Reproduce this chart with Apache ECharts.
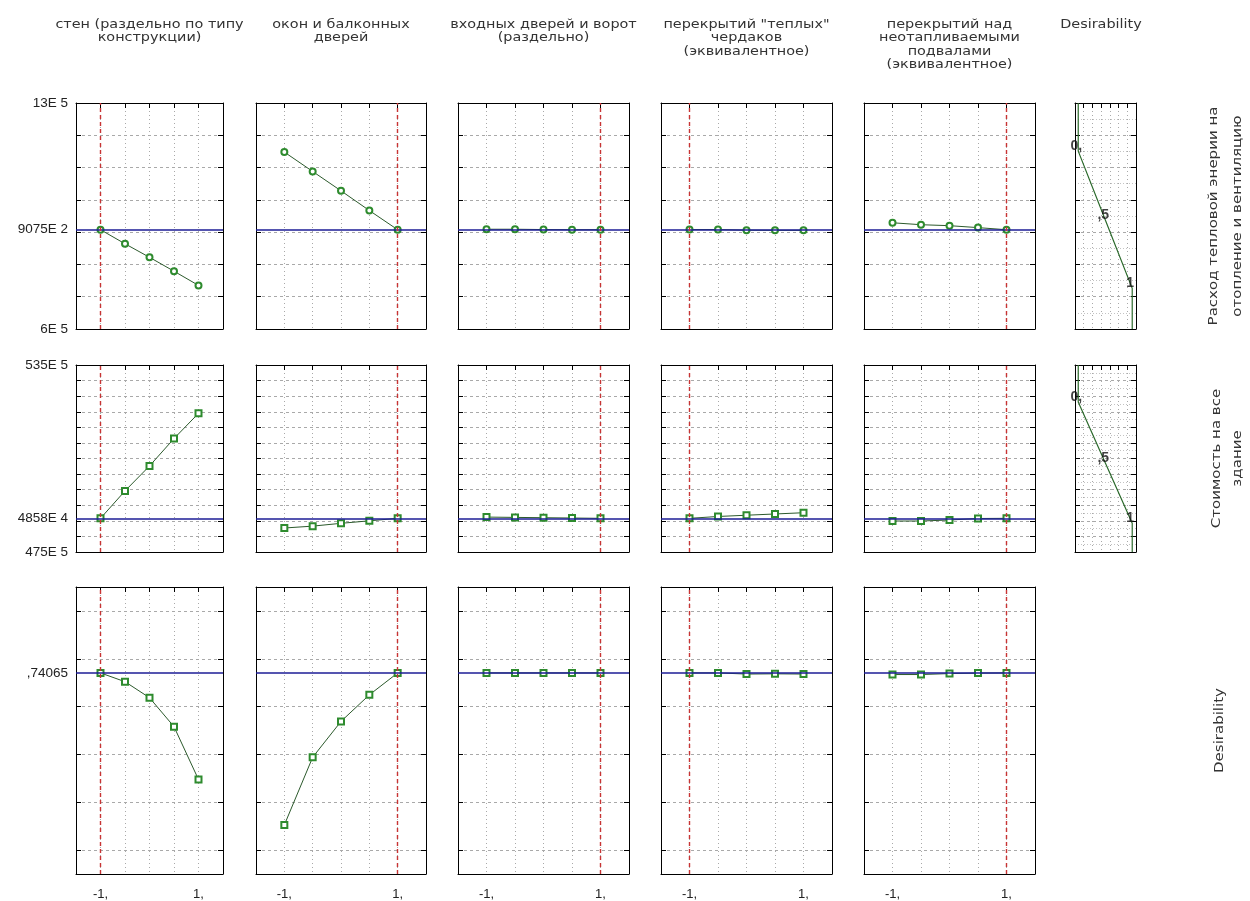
<!DOCTYPE html>
<html><head><meta charset="utf-8">
<script src="https://cdn.jsdelivr.net/npm/echarts@6/dist/echarts.min.js"></script>
<style>html,body{margin:0;padding:0;background:#fff}#c{width:1250px;height:901px}</style>
</head><body><div id="c"></div>
<script>
// ---------------- DATA ----------------
const factorTitles = [
  'стен (раздельно по типу\nконструкции)',
  'окон и балконных\nдверей',
  'входных дверей и ворот\n(раздельно)',
  'перекрытий "теплых"\nчердаков\n(эквивалентное)',
  'перекрытий над\nнеотапливаемыми\nподвалами\n(эквивалентное)'
];
const desirColumnTitle = 'Desirability';
const responseTitles = [
  'Расход тепловой энерии на\nотопление и вентиляцию',
  'Стоимость на все\nздание',
  'Desirability'
];
const factorLevels = [-1, -0.5, 0, 0.5, 1];
const currentFactorLevels = [-1, 1, 1, -1, 1];

const energyProfiles = [
  [907500, 864000, 822000, 779000, 735000],
  [1148000, 1088000, 1028000, 967000, 907500],
  [909000, 909000, 908000, 907500, 907500],
  [908000, 908000, 906000, 905500, 905500],
  [929000, 923000, 920000, 914000, 907500]
];
const costProfiles = [
  [48580000, 49460000, 50260000, 51140000, 51950000],
  [48270000, 48330000, 48420000, 48500000, 48580000],
  [48620000, 48610000, 48600000, 48590000, 48580000],
  [48580000, 48640000, 48680000, 48720000, 48760000],
  [48494000, 48494000, 48527000, 48575000, 48580000]
];
const desirabilityProfiles = [
  [0.7407, 0.704, 0.637, 0.516, 0.295],
  [0.105, 0.388, 0.538, 0.649, 0.7407],
  [0.7407, 0.7407, 0.7407, 0.7407, 0.7407],
  [0.7407, 0.7407, 0.736, 0.737, 0.736],
  [0.734, 0.734, 0.738, 0.740, 0.7407]
];
const currentResponses = [907500, 48580000, 0.74065];
const currentResponseLabels = ['9075E 2', '4858E 4', ',74065'];
const axisMinValues = [600000, 47500000, -0.1];
const axisMaxValues = [1300000, 53500000, 1.1];
const axisMinLabels = ['6E 5', '475E 5', ''];
const axisMaxLabels = ['13E 5', '535E 5', ''];
const axisSteps = [100000, 500000, 0.2];
const xTickLabels = ['-1,', '1,'];

const desirLevels = [0, 0.5, 1];
const desirLevelLabels = ['0,', ',5', '1'];
const energyDesirValues = [1151000, 938400, 725800];
const costDesirValues = [52310000, 50360000, 48420000];
const energyDesirLabels = ['1151E 3', '9384E 2', '7258E 2'];
const costDesirLabels = ['5231E 4', '5036E 4', '4842E 4'];

// ---------------- LAYOUT ----------------
const colBox = [[76,147],[256,170],[458,171],[661,171],[864,171],[1075,61]];
const rowBox = [[103,226],[365,187],[587,287]];
const FONT = 'Liberation Sans, Arial, sans-serif';
const TFONT = 'DejaVu Sans, sans-serif';
const TXT = '#222';
const GRIDC = '#a9a9a9';
const profiles = [energyProfiles, costProfiles, desirabilityProfiles];
const markerSymbols = ['emptyCircle', 'emptyRect', 'emptyRect'];
const desirValueSets = [energyDesirValues, costDesirValues];
const desirLabelSets = [energyDesirLabels, costDesirLabels];

const grid = [], xAxis = [], yAxis = [], series = [], graphic = [];

function yScale(r) {
  const o = { type: 'value', min: axisMinValues[r], max: axisMaxValues[r] };
  if (r < 2) o.interval = axisSteps[r]; else o.splitNumber = 6;
  return o;
}
const blackLine = { show: true, onZero: false, lineStyle: { color: '#000', width: 1 } };
const inTick = { show: true, inside: true, length: 5, lineStyle: { color: '#000' } };

function addPanel(r, c) {
  const g = grid.length;
  grid.push({ left: colBox[c][0], top: rowBox[r][0], width: colBox[c][1], height: rowBox[r][1], containLabel: false });
  const isDes = c === 5;
  let xData;
  if (isDes) {
    // frame axis with 7 equal divisions for the grid, hidden desirability scale for the data
    xAxis.push({ gridIndex: g, type: 'value', position: 'top', min: 0, max: 7, interval: 1,
      axisLine: blackLine, axisTick: inTick, axisLabel: { show: false },
      splitLine: { show: true, showMinLine: false, showMaxLine: false, lineStyle: { color: GRIDC, type: [1, 3], width: 1 } } });
    xData = xAxis.length;
    xAxis.push({ gridIndex: g, type: 'value', position: 'top', min: -0.06, max: 1.07, show: false });
    xAxis.push({ gridIndex: g, type: 'value', position: 'bottom', min: 0, max: 7, interval: 1,
      axisLine: blackLine, axisTick: { show: false }, axisLabel: { show: false }, splitLine: { show: false } });
  } else {
    const xs = { type: 'value', min: -1.5, max: 1.5, interval: 0.5 };
    xData = xAxis.length;
    xAxis.push(Object.assign({}, xs, {
      gridIndex: g, position: 'top', axisLine: blackLine, axisTick: inTick, axisLabel: { show: false },
      splitLine: { show: true, showMinLine: false, showMaxLine: false, lineStyle: { color: GRIDC, type: [1, 3], width: 1 } }
    }));
    xAxis.push(Object.assign({}, xs, {
      gridIndex: g, position: 'bottom', axisLine: blackLine, axisTick: { show: false },
      axisLabel: r === 2 ? {
        show: true, margin: 14, fontSize: 13, fontFamily: FONT, color: TXT,
        formatter: v => v === -1 ? xTickLabels[0] : (v === 1 ? xTickLabels[1] : '')
      } : { show: false },
      splitLine: { show: false }
    }));
  }
  const ys = yScale(r);
  const yLeft = yAxis.length;
  yAxis.push(Object.assign({}, ys, {
    gridIndex: g, position: 'left', axisLine: blackLine, axisTick: inTick,
    axisLabel: (c === 0 && r < 2) ? {
      show: true, margin: 8, fontSize: 13.5, fontFamily: FONT, color: TXT,
      formatter: v => v === axisMinValues[r] ? axisMinLabels[r] : (v === axisMaxValues[r] ? axisMaxLabels[r] : '')
    } : { show: false },
    splitLine: { show: true, showMinLine: false, showMaxLine: false, lineStyle: { color: GRIDC, type: [3, 3], width: 1 } },
    minorTick: { show: false, splitNumber: 2 },
    minorSplitLine: isDes ? { show: true, lineStyle: { color: '#c4c4c4', type: [1, 2] } } : { show: false }
  }));
  yAxis.push(Object.assign({}, ys, {
    gridIndex: g, position: 'right', axisLine: blackLine, axisTick: inTick,
    axisLabel: { show: false }, splitLine: { show: false }
  }));
  return { xData, yLeft };
}

for (let r = 0; r < 3; r++) {
  for (let c = 0; c < 5; c++) {
    const a = addPanel(r, c);
    series.push({
      type: 'line', xAxisIndex: a.xData, yAxisIndex: a.yLeft, data: [], z: 2, silent: true,
      markLine: {
        symbol: 'none', silent: true, animation: false,
        data: [
          { yAxis: currentResponses[r], lineStyle: { color: '#1c1c96', width: 1.6, type: 'solid' },
            label: c === 0 ? { show: true, position: 'start', distance: 8, formatter: currentResponseLabels[r], fontSize: 13.5, fontFamily: FONT, color: TXT } : { show: false } },
          { xAxis: currentFactorLevels[c], lineStyle: { color: '#c83434', width: 1.4, type: [4, 3] }, label: { show: false } }
        ]
      }
    });
    series.push({
      type: 'line', xAxisIndex: a.xData, yAxisIndex: a.yLeft, z: 4, silent: true,
      data: factorLevels.map((x, i) => [x, profiles[r][c][i]]),
      symbol: markerSymbols[r], symbolSize: 6, showSymbol: true,
      lineStyle: { color: '#2c5a2c', width: 1 },
      itemStyle: { color: '#2e8b2e', borderColor: '#2e8b2e', borderWidth: 1.2 },
      animation: false
    });
  }
  if (r < 2) {
    const a = addPanel(r, 5);
    const vals = desirValueSets[r];
    series.push({
      type: 'line', xAxisIndex: a.xData, yAxisIndex: a.yLeft, z: 4, silent: true,
      data: [[desirLevels[0], axisMaxValues[r]], ...desirLevels.map((d, i) => [d, vals[i]]), [desirLevels[2], axisMinValues[r]]],
      symbol: 'none', lineStyle: { color: '#2c6a2c', width: 1.2 }, animation: false,
      markLine: {
        symbol: 'none', silent: true, animation: false,
        lineStyle: { opacity: 0 },
        data: vals.map((v, i) => ({ yAxis: v, label: { show: true, position: 'end', distance: 7, formatter: desirLabelSets[r][i], fontSize: 13.5, fontFamily: FONT, color: TXT } }))
      }
    });
    series.push({
      type: 'scatter', xAxisIndex: a.xData, yAxisIndex: a.yLeft, z: 5, silent: true,
      symbolSize: 1, itemStyle: { color: 'rgba(0,0,0,0)' },
      data: desirLevels.map((d, i) => ({ value: [d, vals[i]], name: desirLevelLabels[i] })),
      label: { show: true, position: 'inside', offset: [-2, -5], formatter: p => p.name, fontSize: 14, fontWeight: 'bold', fontFamily: FONT, color: '#111' },
      animation: false
    });
  }
}

// column titles (stretched horizontally like the original)
const titleCenters = colBox.map(b => b[0] + b[1] / 2);
titleCenters[5] = 1101;
const allTitles = factorTitles.concat([desirColumnTitle]);
for (let c = 0; c < 6; c++) {
  graphic.push({ type: 'text', x: titleCenters[c], y: 18, scaleX: 1.2, silent: true,
    style: { text: allTitles[c], font: '12px ' + TFONT, fill: '#333', textAlign: 'center', textVerticalAlign: 'top', lineHeight: 13.5 } });
}
// row titles (rotated)
const rowTitleX = [1226, 1227, 1220];
const rowTitleLH = [24, 21, 21];
for (let r = 0; r < 3; r++) {
  graphic.push({ type: 'text', x: rowTitleX[r], y: rowBox[r][0] + rowBox[r][1] / 2, rotation: Math.PI / 2, scaleX: 1.25, silent: true,
    style: { text: responseTitles[r], font: '12px ' + TFONT, fill: '#333', textAlign: 'center', textVerticalAlign: 'middle', lineHeight: rowTitleLH[r] } });
}

const chart = echarts.init(document.getElementById('c'));
chart.setOption({
  animation: false,
  backgroundColor: '#fff',
  grid, xAxis, yAxis, series, graphic
});
</script></body></html>
